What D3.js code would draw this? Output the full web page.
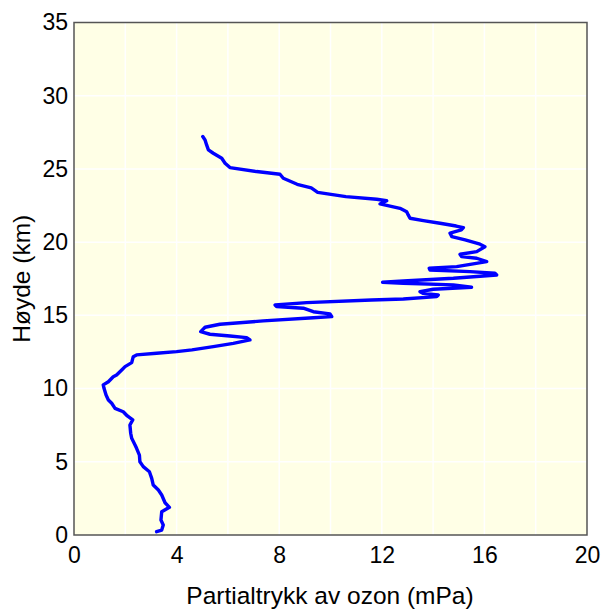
<!DOCTYPE html>
<html><head><meta charset="utf-8">
<script src="https://cdn.jsdelivr.net/npm/d3@7"></script>
<style>body{margin:0;background:#fff;} text{font-family:"Liberation Sans",Arial,sans-serif;}</style>
</head><body>
<svg id="c" width="601" height="610"></svg>
<script>
const heightKm = [0.23,0.34,0.68,1.02,1.59,1.89,2.2,2.73,3.07,3.41,3.87,4.32,4.67,5.0,5.46,5.92,6.15,6.6,6.95,7.51,7.86,8.13,8.42,8.65,9.0,9.22,9.56,10.02,10.25,10.47,10.81,10.93,11.27,11.5,11.77,12.18,12.3,12.41,12.52,12.64,12.86,13.09,13.32,13.48,13.59,13.71,13.89,14.19,14.39,14.62,14.84,14.91,15.1,15.25,15.49,15.6,15.71,15.87,16.05,16.12,16.28,16.39,16.5,16.62,16.78,16.92,17.08,17.19,17.26,17.35,17.53,17.76,17.88,17.99,18.1,18.22,18.33,18.67,18.9,19.01,19.17,19.35,19.69,19.86,20.15,20.38,20.61,20.83,20.99,21.1,21.29,21.47,21.63,21.86,22.08,22.31,22.61,22.83,22.93,23.11,23.4,23.7,23.95,24.36,24.64,24.82,25.09,25.39,25.73,26.07,26.3,26.64,26.98,27.21];
const ozone_mPa = [3.22,3.42,3.48,3.39,3.42,3.72,3.55,3.42,3.29,3.09,3.03,2.94,2.70,2.57,2.55,2.44,2.38,2.25,2.21,2.18,2.29,2.08,1.92,1.60,1.47,1.34,1.25,1.17,1.14,1.34,1.53,1.66,1.86,1.99,2.25,2.31,2.44,3.22,4.0,4.6,5.43,6.21,6.86,6.73,6.08,5.30,4.94,5.11,5.69,7.38,9.33,10.05,9.98,9.33,8.94,7.90,7.84,9.07,11.6,12.84,14.14,14.2,13.62,13.49,14.01,15.5,14.79,12.84,12.03,12.84,14.79,16.48,16.41,15.44,13.88,13.85,14.92,16.09,15.70,15.11,15.05,15.70,16.02,15.83,15.25,14.73,14.66,15.1,15.18,14.9,14.27,13.62,13.10,13.03,12.97,12.71,11.93,12.19,11.80,10.6,9.5,9.25,8.7,8.16,8.03,7.12,6.08,5.89,5.76,5.43,5.24,5.17,5.11,5.02];
const xTicks = [0,4,8,12,16,20];
const yTicks = [0,5,10,15,20,25,30,35];
const xGrid = [2,4,6,8,10,12,14,16,18];
const yGrid = [5,10,15,20,25,30];
const xLabel = "Partialtrykk av ozon (mPa)";
const yLabel = "Høyde (km)";

const svg = d3.select("#c");
const L=74, R=587, T=22.5, B=535;
const x = d3.scaleLinear().domain([0,20]).range([L,R]);
const y = d3.scaleLinear().domain([0,35]).range([B,T]);

svg.append("rect").attr("x",L).attr("y",T).attr("width",R-L).attr("height",B-T).attr("fill","#ffffe6");
svg.append("g").selectAll("line").data(xGrid).join("line")
  .attr("x1",d=>x(d)).attr("x2",d=>x(d)).attr("y1",T).attr("y2",B)
  .attr("stroke","#fff").attr("stroke-width",1.5);
svg.append("g").selectAll("line").data(yGrid).join("line")
  .attr("y1",d=>y(d)).attr("y2",d=>y(d)).attr("x1",L).attr("x2",R)
  .attr("stroke","#fff").attr("stroke-width",1.5);

const pts = heightKm.map((h,i)=>[ozone_mPa[i],h]);
svg.append("path").datum(pts)
  .attr("d", d3.line().x(d=>x(d[0])).y(d=>y(d[1])))
  .attr("fill","none").attr("stroke","#0000ff").attr("stroke-width",3.4)
  .attr("stroke-linejoin","round").attr("stroke-linecap","round");

svg.append("rect").attr("x",L).attr("y",T).attr("width",R-L).attr("height",B-T)
  .attr("fill","none").attr("stroke","#555").attr("stroke-width",1.5);

const xa = svg.append("g").attr("transform",`translate(0,${B})`)
  .call(d3.axisBottom(x).tickValues(xTicks).tickSize(0).tickPadding(12).tickFormat(d3.format("d")));
const ya = svg.append("g").attr("transform",`translate(${L},0)`)
  .call(d3.axisLeft(y).tickValues(yTicks).tickSize(0).tickPadding(6).tickFormat(d3.format("d")));
[xa,ya].forEach(a=>{a.select(".domain").remove(); a.selectAll("text").attr("font-size",23).attr("fill","#000").attr("font-family","'Liberation Sans',Arial,sans-serif");});

svg.append("text").attr("x",(L+R)/2 - 0.5).attr("y",604).attr("text-anchor","middle")
  .attr("font-size",24.5).text(xLabel);
svg.append("text").attr("transform",`translate(30,${(T+B)/2 + 0}) rotate(-90)`).attr("text-anchor","middle")
  .attr("font-size",24.5).text(yLabel);
</script>
</body></html>
